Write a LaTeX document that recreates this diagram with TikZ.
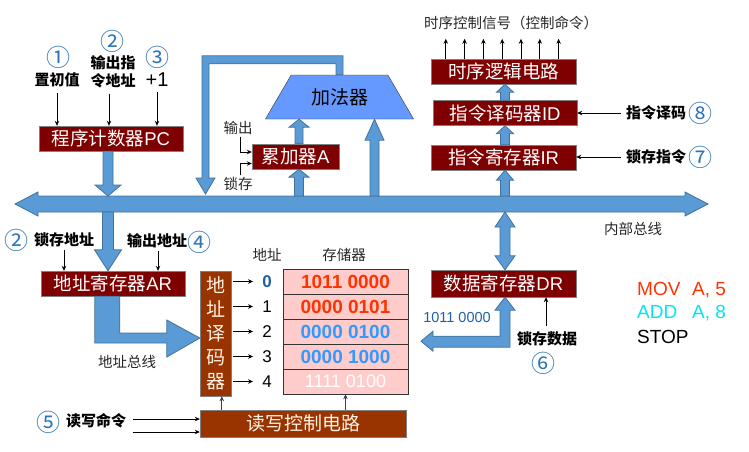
\documentclass[tikz,border=0pt]{standalone}
\usepackage{fontspec}
\setmainfont{Liberation Sans}
\newfontfamily\cjk{Noto Sans CJK SC}
\usetikzlibrary{calc,positioning,shapes.geometric,arrows.meta}

\definecolor{regred}{HTML}{7F0000}
\definecolor{brownbox}{HTML}{993300}
\definecolor{busblue}{HTML}{5B9BD5}
\definecolor{busedge}{HTML}{41719C}
\definecolor{addblue}{HTML}{6699FF}
\definecolor{cellpink}{HTML}{FFCCCC}
\definecolor{numblue}{HTML}{2E75B6}
\definecolor{valred}{HTML}{FF3300}
\definecolor{valblue}{HTML}{3399FF}
\definecolor{darkblue}{HTML}{1F5FA8}
\definecolor{addcyan}{HTML}{00E6F0}

\tikzset{blockarrow/.style={fill=busblue,draw=busedge,line width=0.8pt,line join=miter}}

% vertical block arrow: tail, tip, half shaft, half head, head length
\newcommand\blockv[5]{%
  \draw[blockarrow] let \p1=(#1), \p2=(#2), \p3=($(#2)!#5!(#1)$) in
    (\x2-#3,\y1) -- (\x2-#3,\y3) -- (\x2-#4,\y3) -- (\x2,\y2) -- (\x2+#4,\y3)
    -- (\x2+#3,\y3) -- (\x2+#3,\y1) -- cycle;}

\begin{document}
\begin{tikzpicture}[x=1pt,y=-1pt,>={Stealth[length=5pt,width=4.5pt]}]
\useasboundingbox (0,0) rectangle (749,451);

\coordinate (bustop) at (0,196);
\coordinate (busbot) at (0,212);
\coordinate (col) at (108,0);
\coordinate (acol) at (299,0);
\coordinate (rcol) at (374.5,0);
\coordinate (icol) at (505,0);
\coordinate (fbcol) at (205.5,0);

% registers
\begin{scope}[every node/.style={draw=gray,fill=regred,text=white,inner sep=0pt,
    minimum height=25,font=\fontsize{18.5}{20}\selectfont}]
	\node [minimum width=144] (pc) at (111,138.5) {{\cjk 程序计数器}PC};
	\node [minimum width=87] (a) at (295.5,156.5) {{\cjk 累加器}A};
	\node [minimum width=145] (tl) at (503.5,71.5) {\cjk 时序逻辑电路};
	\node [minimum width=144] (id) at (505,113) {{\cjk 指令译码器}ID};
	\node [minimum width=145] (ir) at (503.5,157.5) {{\cjk 指令寄存器}IR};
	\node [minimum width=144] (ar) at (113,283.5) {{\cjk 地址寄存器}AR};
	\node [minimum width=145,minimum height=27] (dr) at (503.5,283.5) {{\cjk 数据寄存器}DR};
\end{scope}

\begin{scope}[every node/.style={draw=gray,fill=brownbox,text=orange!10,inner sep=0pt,
    font=\cjk\fontsize{19}{24}\selectfont}]
	\node [minimum width=31,minimum height=125,align=center] (dec) at (215.5,333.5) {地\\址\\译\\码\\器};
	\node [minimum width=206,minimum height=27] (rw) at (303,423.5) {读写控制电路};
\end{scope}

\node [trapezium,trapezium stretches=true,trapezium left angle=55,trapezium right angle=55,
  minimum width=149,minimum height=44,draw=black!80,fill=addblue,
  font=\cjk\fontsize{19}{20}\selectfont] (adder) at (339.5,97) {加法器};

% memory
\begin{scope}[every node/.style={draw=black!80,fill=cellpink,minimum width=125,minimum height=25,
    inner sep=0pt,font=\fontsize{19}{20}\selectfont\bfseries}]
	\node [text=valred] (m0) at (345.5,281.5) {1011 0000};
	\node [text=valred] (m1) at (345.5,306.5) {0000 0101};
	\node [text=valblue] (m2) at (345.5,331.5) {0000 0100};
	\node [text=valblue] (m3) at (345.5,356.5) {0000 1000};
	\node [text=white,font=\fontsize{18}{20}\selectfont] (m4) at (345.5,381.5) {1111 0100};
\end{scope}

\begin{scope}[every node/.style={inner sep=2pt,font=\fontsize{17}{18}\selectfont}]
	\node [text=darkblue,font=\fontsize{17}{18}\selectfont\bfseries] (n0) at (267,281.5) {0};
	\node (n1) at (267,306.5) {1};
	\node (n2) at (267,331.5) {2};
	\node (n3) at (267,356.5) {3};
	\node (n4) at (267,381.5) {4};
\end{scope}

% labels
\begin{scope}[every node/.style={inner sep=1pt,font=\cjk\bfseries\fontsize{15}{18.5}\selectfont}]
	\node (init) at (57,80) {置初值};
	\node [align=center] (pcout) at (113,72) {输出指\\令地址};
	\node (arlock) at (64,240) {锁存地址};
	\node (arout) at (157,241) {输出地址};
	\node (rwcmd) at (96,421) {读写命令};
	\node (drlock) at (547,339) {锁存数据};
	\node (iddec) at (656,113) {指令译码};
	\node (irlock) at (656,157) {锁存指令};
\end{scope}
\node [inner sep=1pt,font=\fontsize{20}{20}\selectfont] (inc) at (157,80) {+1};

\begin{scope}[every node/.style={inner sep=0pt,text=numblue,font=\cjk\fontsize{24}{24}\selectfont}]
	\node (c1) at (58,57) {①};
	\node (c2) at (112,41) {②};
	\node (c3) at (157,57) {③};
	\node (c2b) at (17,240) {②};
	\node (c4) at (199,242) {④};
	\node (c5) at (48,422) {⑤};
	\node (c6) at (543,363) {⑥};
	\node (c7) at (700,157) {⑦};
	\node (c8) at (700,113) {⑧};
\end{scope}

\begin{scope}[every node/.style={inner sep=1pt,text=black!85,font=\cjk\fontsize{14.5}{16}\selectfont}]
	\node (aout) at (238,128) {输出};
	\node (alock) at (238,184) {锁存};
	\node (addrh) at (267,255) {地址};
	\node (memh) at (344,255) {存储器};
	\node (ibus) at (633,229) {内部总线};
	\node (abus) at (127,362) {地址总线};
	\node (ctrl) at (511,23) {时序控制信号（控制命令）};
\end{scope}

\node [text=darkblue,font=\fontsize{14.5}{16}\selectfont] (drval) at (457,317) {1011 0000};

\begin{scope}[every node/.style={anchor=west,inner sep=0pt,font=\fontsize{19}{20}\selectfont}]
	\node [text=valred] (mov) at (637,290) {\makebox[55pt][l]{MOV}A, 5};
	\node [text=addcyan] (add) at (637,313) {\makebox[55pt][l]{ADD}A, 8};
	\node (stop) at (637,337) {STOP};
\end{scope}

% internal bus
\draw[blockarrow] (15,204) -- (38,192) -- (38,196) -- (685,196) -- (685,192) -- (708,204)
  -- (685,216) -- (685,212) -- (38,212) -- (38,216) -- cycle;

% block arrows
\blockv{col |- pc.south}{col |- bustop}{5pt}{13pt}{11pt}
\blockv{col |- busbot}{col |- ar.north}{5.5pt}{13.5pt}{21pt}
\blockv{acol |- bustop}{acol |- a.south}{4.5pt}{10pt}{8pt}
\blockv{acol |- a.north}{acol |- adder.south}{4pt}{10pt}{8pt}
\blockv{rcol |- bustop}{rcol |- adder.south}{4.5pt}{9.5pt}{21pt}
\blockv{icol |- bustop}{icol |- ir.south}{4.5pt}{8.5pt}{10pt}
\blockv{icol |- ir.north}{icol |- id.south}{4.5pt}{8.5pt}{8pt}
\blockv{icol |- id.north}{icol |- tl.south}{4.5pt}{8.5pt}{8pt}

\draw[blockarrow] let \p1=(adder.north), \p2=(fbcol |- bustop) in
  (\x1-3.5pt,\y1) -- (\x1-3.5pt,\y1+11pt) -- (\x2+3.5pt,\y1+11pt) -- (\x2+3.5pt,\y2+18pt)
  -- (\x2+9.5pt,\y2+18pt) -- (\x2,\y2+2pt) -- (\x2-9.5pt,\y2+18pt) -- (\x2-3.5pt,\y2+18pt)
  -- (\x2-3.5pt,\y1+19pt) -- (\x1+3.5pt,\y1+19pt) -- (\x1+3.5pt,\y1) -- cycle;

\draw[blockarrow] let \p1=(icol |- busbot), \p2=(icol |- dr.north) in
  (\x1,\y1) -- (\x1+10pt,\y1-15pt) -- (\x1+5pt,\y1-15pt) -- (\x1+5pt,\y2+14pt)
  -- (\x1+10pt,\y2+14pt) -- (\x2,\y2) -- (\x1-10pt,\y2+14pt) -- (\x1-5pt,\y2+14pt)
  -- (\x1-5pt,\y1-15pt) -- (\x1-10pt,\y1-15pt) -- cycle;

\draw[blockarrow] let \p1=(icol |- dr.south) in
  (\x1,\y1) -- (\x1+10pt,\y1-13pt) -- (\x1+5pt,\y1-13pt) -- (\x1+5pt,\y1-50pt)
  -- (\x1-72pt,\y1-50pt) -- (\x1-72pt,\y1-54pt) -- (\x1-84pt,\y1-44pt) -- (\x1-72pt,\y1-34pt)
  -- (\x1-72pt,\y1-39pt) -- (\x1-5pt,\y1-39pt) -- (\x1-5pt,\y1-13pt) -- (\x1-10pt,\y1-13pt) -- cycle;

\draw[blockarrow] let \p1=(ar.south west), \p2=(dec.west) in
  (\x1+54pt,\y1) -- (\x1+54pt,\y2-9.5pt) -- (\x2-33pt,\y2-9.5pt) -- (\x2-33pt,\y2-23.5pt)
  -- (\x2,\y2-4.5pt) -- (\x2-33pt,\y2+13.5pt) -- (\x2-33pt,\y2+0.5pt) -- (\x1+79pt,\y2+0.5pt)
  -- (\x1+79pt,\y1) -- cycle;

% thin arrows
\begin{scope}[line width=0.8pt]
	\draw[->] ($(init.south)+(0,5)$) -- (init.south |- pc.north);
	\draw[->] ($(pcout.south)+(-4,4)$) -- ($(pcout.south |- pc.north)+(-4,0)$);
	\draw[->] ($(inc.south)+(0,4)$) -- (inc.south |- pc.north);
	\draw[->] ($(aout.south)+(2,1)$) |- ($(a.west)+(0,-4.5)$);
	\draw[->] ($(alock.north)+(2,-1)$) |- ($(a.west)+(0,7)$);
	\foreach \i in {0,...,6}
		\draw[->] ($(tl.north west)+(15+18.8*\i,0)$) -- ++(0,-20);
	\draw[->,shorten <=4pt] (iddec.west) -- (id.east |- iddec);
	\draw[->,shorten <=4pt] (irlock.west) -- (ir.east |- irlock);
	\draw[->] ($(arlock.south)+(0,2)$) -- (arlock.south |- ar.north);
	\draw[->] ($(arout.south)+(1,2)$) -- ($(arout.south |- ar.north)+(1,0)$);
	\draw[->] ($(drlock.north)+(-1,-5)$) -- ($(drlock.north |- dr.south)+(-1,0)$);
	\foreach \i in {0,...,4}
		\draw[->,shorten <=2pt,shorten >=7pt] (dec.east |- n\i) -- (n\i.west);
	\draw[->,black!75] ($(rw.north west)+(22,0)$) -- ($(dec.south west)+(22,0)$);
	\draw[->,black!75] (rw.north -| m4.south) -- (m4.south);
	\draw[->] ($(rw.west)+(-67,-4.5)$) -- ($(rw.west)+(0,-4.5)$);
	\draw[->] ($(rw.west)+(-67,8.5)$) -- ($(rw.west)+(0,8.5)$);
\end{scope}
\end{tikzpicture}
\end{document}
